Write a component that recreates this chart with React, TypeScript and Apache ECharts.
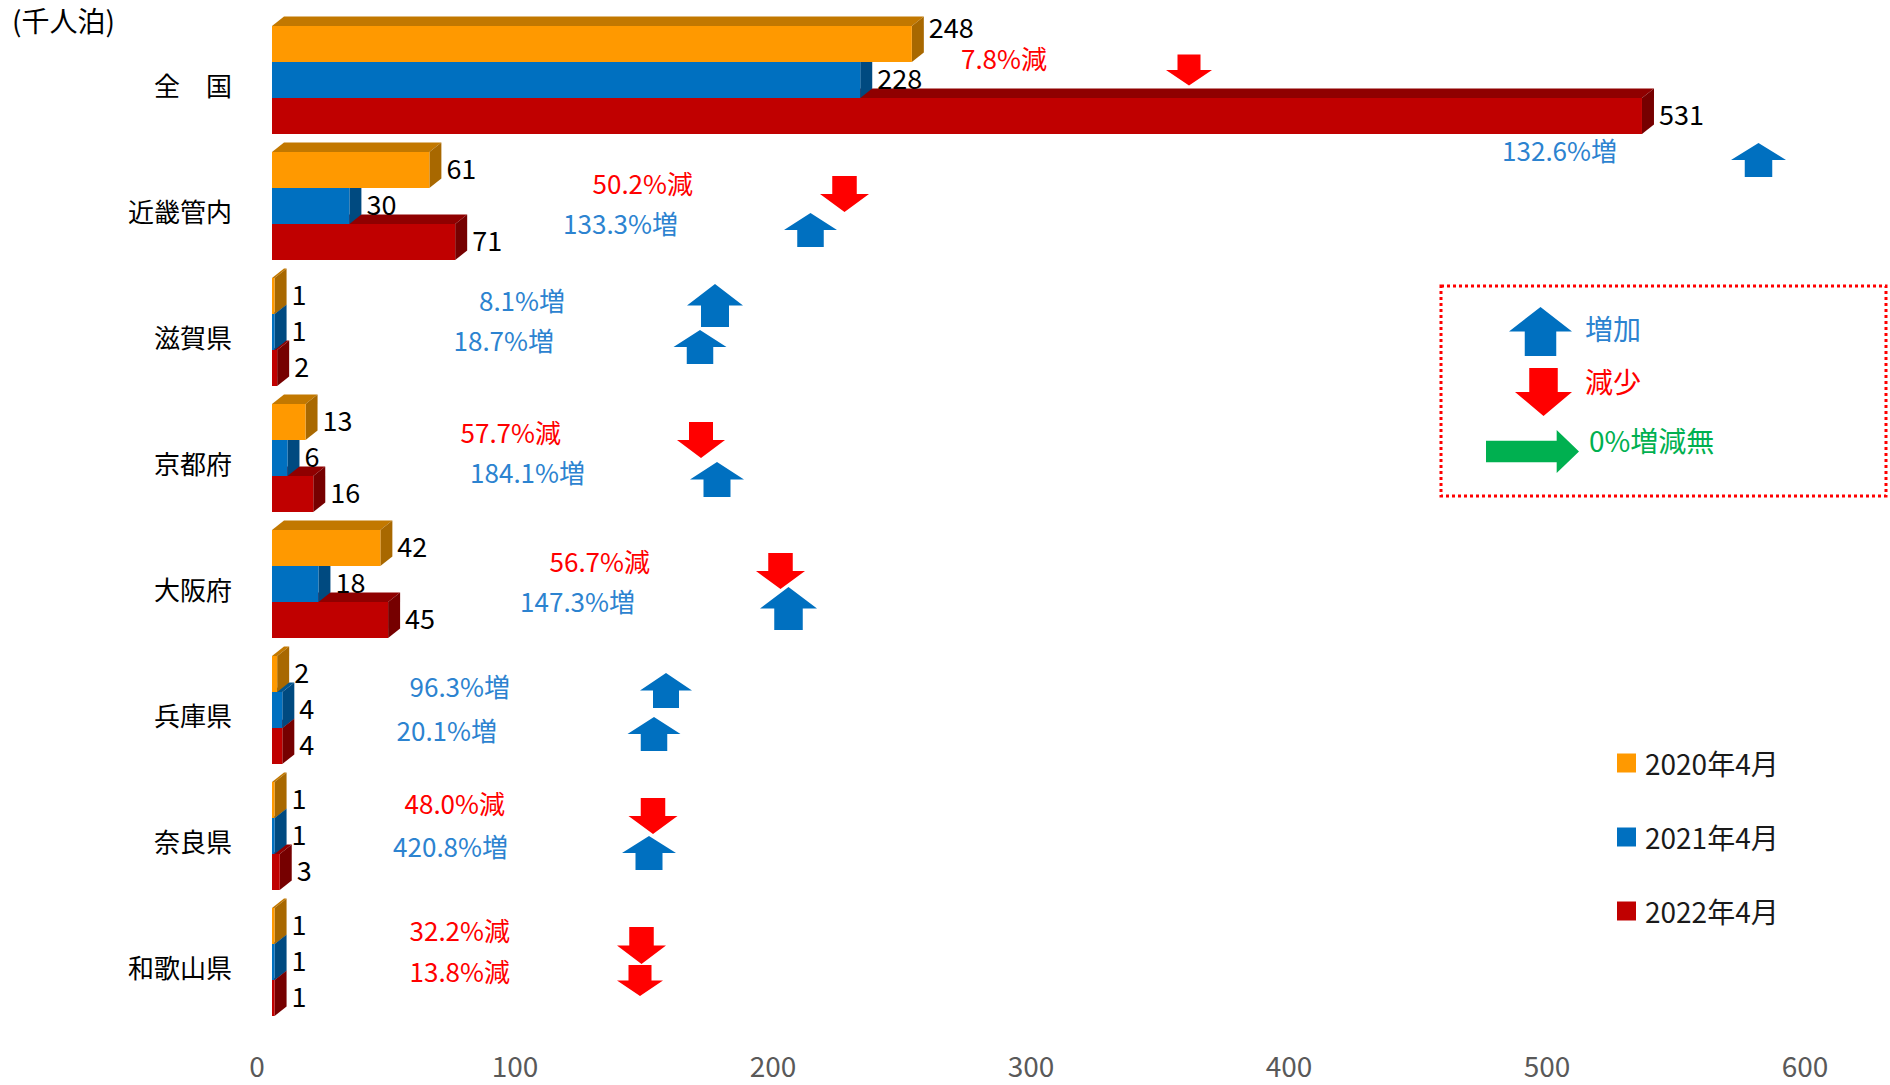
import React, { useEffect, useRef } from 'react';
import * as echarts from 'echarts';

// ---------------- data ----------------
const categories = ['全　国', '近畿管内', '滋賀県', '京都府', '大阪府', '兵庫県', '奈良県', '和歌山県'];
const seriesNames = ['2020年4月', '2021年4月', '2022年4月'];
const values2020 = [248, 61, 1, 13, 42, 2, 1, 1];
const values2021 = [228, 30, 1, 6, 18, 4, 1, 1];
const values2022 = [531, 71, 2, 16, 45, 4, 3, 1];
// % change 2021 vs 2020, 2022 vs 2021
const change2021 = [-7.8, -50.2, 8.1, -57.7, -56.7, 96.3, -48.0, -32.2];
const change2022 = [132.6, 133.3, 18.7, 184.1, 147.3, 20.1, 420.8, -13.8];
const xTickMin = 0;
const xTickMax = 600;
const xTickStep = 100;
const unitLabel = '(千人泊)';
const keyLabels = ['増加', '減少', '0%増減無'];

// ---------------- layout / style ----------------
const FONT = "'Noto Sans CJK JP', 'Noto Sans', sans-serif";
const BLUE_TEXT = '#2C83D0';
const RED = '#FF0000';
const BLUE = '#0070C0';
const GREEN = '#00B050';
const FACES = [
  { front: '#FF9900', top: '#C27800', side: '#A86800' },
  { front: '#0070C0', top: '#00558F', side: '#004A80' },
  { front: '#C00000', top: '#8F0000', side: '#760000' },
];
const DX = 12;
const DY = 9.5;
const BAR_FRAC = 36 / 126;
const LABEL_GAP = 17;
const TEXT_SHIFT = -2.5;
const LABEL_DY: Record<string, number> = { '0-0': -15 };

// annotation layout (pixels)
const ann1 = {
  textRight: [1047, 693, 565, 561, 650, 510, 505, 510],
  textDy: [-20, -21, -30, -24, -21, -22, -31, -30],
  arrowX: [1189, 844.5, 715, 701, 780.5, 666, 653, 641.5],
  arrowDy: [-10, -12, -26.5, -18, -13, -19.5, -20, -16.5],
  arrowSize: [[46, 31], [49, 36], [56, 43], [48, 36], [49, 36], [52, 35], [49, 36], [49, 37]],
};
const ann2 = {
  textRight: [1617, 678, 554, 585, 635, 497, 508, 510],
  textDy: [72, 19, 10, 16, 19, 22, 12, 11],
  arrowX: [1758.5, 810.5, 700, 717, 788.5, 654, 649, 640],
  arrowDy: [80, 24, 15, 21.5, 24.5, 24, 17, 18.5],
  arrowSize: [[55, 34], [53, 34], [53, 34], [54, 35], [57, 43], [53, 34], [54, 34], [46, 31]],
};

function arrowPoints(dir: 'up' | 'down' | 'right', cx: number, cy: number, w: number, h: number) {
  if (dir === 'right') {
    const headLen = w * 0.24;
    const sh = h * 0.5;
    const l = cx - w / 2, r = cx + w / 2, hb = r - headLen;
    return [[l, cy - sh / 2], [hb, cy - sh / 2], [hb, cy - h / 2], [r, cy], [hb, cy + h / 2], [hb, cy + sh / 2], [l, cy + sh / 2]];
  }
  const hh = h * 0.5;
  const sw = w * 0.5;
  const s = dir === 'up' ? 1 : -1;
  const tip = cy - s * h / 2;
  const tail = cy + s * h / 2;
  const hb = tip + s * hh;
  return [
    [cx, tip], [cx + w / 2, hb], [cx + sw / 2, hb], [cx + sw / 2, tail],
    [cx - sw / 2, tail], [cx - sw / 2, hb], [cx - w / 2, hb],
  ];
}

function makeBarRender(k: number) {
  return (params: any, api: any) => {
    const v = api.value(0);
    const cat = api.value(1);
    const base = api.coord([0, cat]);
    const end = api.coord([v, cat]);
    const band = api.size([0, 1])[1];
    const h = band * BAR_FRAC;
    const yTop = base[1] - 1.5 * h + k * h;
    const yBot = yTop + h;
    const x0 = base[0];
    const x1 = end[0];
    const f = FACES[k];
    const ldy = LABEL_DY[`${k}-${params.dataIndex}`] || 0;
    return {
      type: 'group',
      children: [
        { type: 'polygon', shape: { points: [[x0, yTop], [x0 + DX, yTop - DY], [x1 + DX, yTop - DY], [x1, yTop]] }, style: { fill: f.top } },
        { type: 'polygon', shape: { points: [[x1, yTop], [x1 + DX, yTop - DY], [x1 + DX, yBot - DY], [x1, yBot]] }, style: { fill: f.side } },
        { type: 'rect', shape: { x: x0, y: yTop, width: Math.max(0, x1 - x0), height: h }, style: { fill: f.front } },
        {
          type: 'text', x: x1 + LABEL_GAP, y: (yTop + yBot) / 2 + ldy + TEXT_SHIFT,
          style: { text: String(v), fill: '#000', fontSize: 27, fontFamily: FONT, align: 'left', verticalAlign: 'middle' },
        },
      ],
    };
  };
}

function makeAnnRender(layout: typeof ann1) {
  return (params: any, api: any) => {
    const i = params.dataIndex;
    const v = api.value(0);
    const cy = api.coord([0, api.value(1)])[1];
    const dir: 'up' | 'down' | 'right' = v > 0 ? 'up' : v < 0 ? 'down' : 'right';
    const arrowColor = dir === 'up' ? BLUE : dir === 'down' ? RED : GREEN;
    const textColor = dir === 'up' ? BLUE_TEXT : dir === 'down' ? RED : GREEN;
    const word = dir === 'up' ? '増' : dir === 'down' ? '減' : '増減無';
    const [w, h] = layout.arrowSize[i];
    return {
      type: 'group',
      children: [
        {
          type: 'text', x: layout.textRight[i], y: cy + layout.textDy[i] + TEXT_SHIFT,
          style: { text: `${Math.abs(v).toFixed(1)}%${word}`, fill: textColor, fontSize: 26, fontFamily: FONT, align: 'right', verticalAlign: 'middle' },
        },
        {
          type: 'polygon',
          shape: { points: arrowPoints(dir, layout.arrowX[i], cy + layout.arrowDy[i], w, h) },
          style: { fill: arrowColor },
        },
      ],
    };
  };
}

export default function App() {
  const ref = useRef<HTMLDivElement>(null);
  useEffect(() => {
    if (!ref.current) return;
    const chart = echarts.init(ref.current, undefined, { renderer: 'svg' });
    const seriesValues = [values2020, values2021, values2022];
    const barSeries = seriesValues.map((vals, k) => ({
      type: 'custom',
      name: seriesNames[k],
      xAxisIndex: 0,
      yAxisIndex: 0,
      z: 4 - k,
      color: FACES[k].front,
      itemStyle: { color: FACES[k].front },
      encode: { x: 0, y: 1 },
      renderItem: makeBarRender(k),
      data: vals.map((v, i) => [v, i]),
    }));
    const annSeries = [
      { layout: ann1, changes: change2021 },
      { layout: ann2, changes: change2022 },
    ].map((a) => ({
      type: 'custom',
      xAxisIndex: 0,
      yAxisIndex: 0,
      z: 6,
      encode: { x: 0, y: 1 },
      renderItem: makeAnnRender(a.layout),
      data: a.changes.map((c, i) => [c, i]),
    }));

    const option: any = {
      animation: false,
      backgroundColor: '#fff',
      textStyle: { fontFamily: FONT },
      grid: [
        { left: 272, top: 17, width: 1548, height: 1008 },
        { left: 257, top: 21, width: 1548, height: 1008 },
      ],
      xAxis: [
        { type: 'value', gridIndex: 0, min: xTickMin, max: xTickMax, interval: xTickStep, show: false },
        {
          type: 'value', gridIndex: 1, min: xTickMin, max: xTickMax, interval: xTickStep,
          axisLine: { show: false }, axisTick: { show: false }, splitLine: { show: false },
          axisLabel: { fontSize: 28, color: '#595959', margin: 22, fontFamily: FONT },
        },
      ],
      yAxis: [
        { type: 'category', gridIndex: 0, data: categories, inverse: true, show: false },
        {
          type: 'category', gridIndex: 1, data: categories, inverse: true,
          axisLine: { show: false }, axisTick: { show: false }, splitLine: { show: false },
          axisLabel: { fontSize: 26, color: '#000', margin: 25, fontFamily: FONT },
        },
      ],
      legend: {
        orient: 'vertical',
        left: 1617,
        top: 749,
        padding: 0,
        itemWidth: 19,
        itemHeight: 19,
        itemGap: 46,
        icon: 'rect',
        data: seriesNames,
        textStyle: { fontSize: 28, color: '#1a1a1a', fontFamily: FONT, lineHeight: 28, padding: [0, 0, 0, 4] },
      },
      graphic: [
        {
          type: 'text', x: 12, y: 20,
          style: { text: unitLabel, fontSize: 28, fill: '#000', fontFamily: FONT, verticalAlign: 'middle' },
        },
        {
          type: 'rect', shape: { x: 1441, y: 286, width: 445, height: 210 },
          style: { fill: 'none', stroke: RED, lineWidth: 3, lineDash: [3, 3] },
        },
        { type: 'polygon', shape: { points: arrowPoints('up', 1540.5, 331.5, 63, 49) }, style: { fill: BLUE } },
        { type: 'polygon', shape: { points: arrowPoints('down', 1543.5, 392, 57, 48) }, style: { fill: RED } },
        { type: 'polygon', shape: { points: arrowPoints('right', 1532.5, 451.5, 93, 43) }, style: { fill: GREEN } },
        {
          type: 'text', x: 1585, y: 328,
          style: { text: keyLabels[0], fontSize: 28, fill: BLUE_TEXT, fontFamily: FONT, verticalAlign: 'middle' },
        },
        {
          type: 'text', x: 1585, y: 381,
          style: { text: keyLabels[1], fontSize: 28, fill: RED, fontFamily: FONT, verticalAlign: 'middle' },
        },
        {
          type: 'text', x: 1589, y: 440,
          style: { text: keyLabels[2], fontSize: 28, fill: GREEN, fontFamily: FONT, verticalAlign: 'middle' },
        },
      ],
      series: [...barSeries, ...annSeries],
    };
    chart.setOption(option);
    return () => chart.dispose();
  }, []);
  return (
    <div
      ref={ref}
      style={{ position: 'fixed', left: 0, top: 0, width: 1890, height: 1085, background: '#fff' }}
    />
  );
}
